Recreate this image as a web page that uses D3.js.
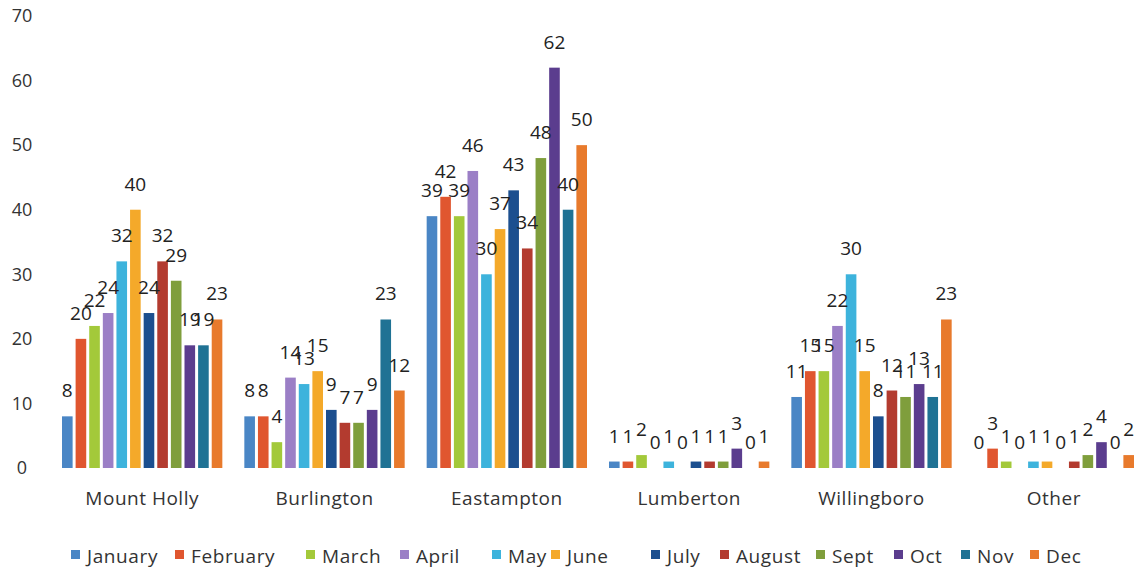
<!DOCTYPE html>
<html><head><meta charset="utf-8">
<script src="https://cdn.jsdelivr.net/npm/d3@7"></script>
<style>body{margin:0;background:#fff;} svg{display:block;}</style>
</head><body>
<svg id="chart" width="1141" height="571"></svg>
<script>
const categories = ["Mount Holly","Burlington","Eastampton","Lumberton","Willingboro","Other"];
const months = ["January","February","March","April","May","June","July","August","Sept","Oct","Nov","Dec"];
const january  = [8, 8, 39, 1, 11, 0];
const february = [20, 8, 42, 1, 15, 3];
const march    = [22, 4, 39, 2, 15, 1];
const april    = [24, 14, 46, 0, 22, 0];
const may      = [32, 13, 30, 1, 30, 1];
const june     = [40, 15, 37, 0, 15, 1];
const july     = [24, 9, 43, 1, 8, 0];
const august   = [32, 7, 34, 1, 12, 1];
const sept     = [29, 7, 48, 1, 11, 2];
const oct      = [19, 9, 62, 3, 13, 4];
const nov      = [19, 23, 40, 0, 11, 0];
const dec      = [23, 12, 50, 1, 23, 2];
const yTicks = [0,10,20,30,40,50,60,70];
const colors = ["#4a86c5","#e0562f","#a3c93a","#9b7fc6","#3db3dc","#f4a92a","#1c4f8f","#b33b2f","#7f9e3c","#5b3d8e","#1f7294","#e87a2c"];

const seriesVals = [january,february,march,april,may,june,july,august,sept,oct,nov,dec];
const data = categories.map((c,i)=>({cat:c, vals: months.map((m,j)=>({m, v: seriesVals[j][i], j}))}));

const svg = d3.select("#chart");
const font = "'Open Sans', sans-serif";
const x0 = d3.scaleBand().domain(categories).range([51,1145]).padding(0);
const x1 = d3.scaleBand().domain(months).range([11, x0.bandwidth()-11]).paddingInner(0.22).paddingOuter(0);
const y = d3.scaleLinear().domain([0,70]).range([468,16]);
const color = d3.scaleOrdinal().domain(months).range(colors);

// y axis labels
const yAxis = d3.axisLeft(y).tickValues(yTicks).tickSize(0).tickPadding(0);
const ya = svg.append("g").attr("transform","translate(22,0)").call(yAxis);
ya.select(".domain").remove();
ya.selectAll("text").attr("font-family",font).attr("font-size",18).attr("fill","#333").attr("x",0).attr("text-anchor","middle");

// x axis labels
const xAxis = d3.axisBottom(x0).tickSize(0).tickPadding(0);
const xa = svg.append("g").attr("transform","translate(0,505)").call(xAxis);
xa.select(".domain").remove();
xa.selectAll("text").attr("font-family",font).attr("font-size",19).attr("letter-spacing","0.5px").attr("fill","#333").attr("dy","0");

const g = svg.selectAll("g.grp").data(data).enter().append("g").attr("class","grp")
  .attr("transform", d=>`translate(${x0(d.cat)},0)`);
g.selectAll("rect").data(d=>d.vals).enter().append("rect")
  .attr("x", d=>x1(d.m)).attr("width", x1.bandwidth())
  .attr("y", d=>y(d.v)).attr("height", d=>y(0)-y(d.v))
  .attr("fill", d=>color(d.m));
g.selectAll("text.lbl").data(d=>d.vals).enter().append("text").attr("class","lbl")
  .attr("x", d=>x1(d.m)+x1.bandwidth()/2).attr("y", d=>y(d.v)-19)
  .attr("text-anchor","middle").attr("font-family",font).attr("font-size",19).attr("fill","#222")
  .text(d=>d.v);

// legend
const legendTextX = [87,191,322,416,508,567,667,736,832,910,977,1046];
const lg = svg.append("g").selectAll("g").data(months).enter().append("g")
  .attr("transform",(d,i)=>`translate(${legendTextX[i]},0)`);
lg.append("rect").attr("x",-16).attr("y",550).attr("width",9).attr("height",9).attr("fill",d=>color(d));
lg.append("text").attr("x",0).attr("y",563).attr("font-family",font).attr("font-size",19).attr("letter-spacing","0.6px").attr("fill","#333").text(d=>d);
</script>
</body></html>
